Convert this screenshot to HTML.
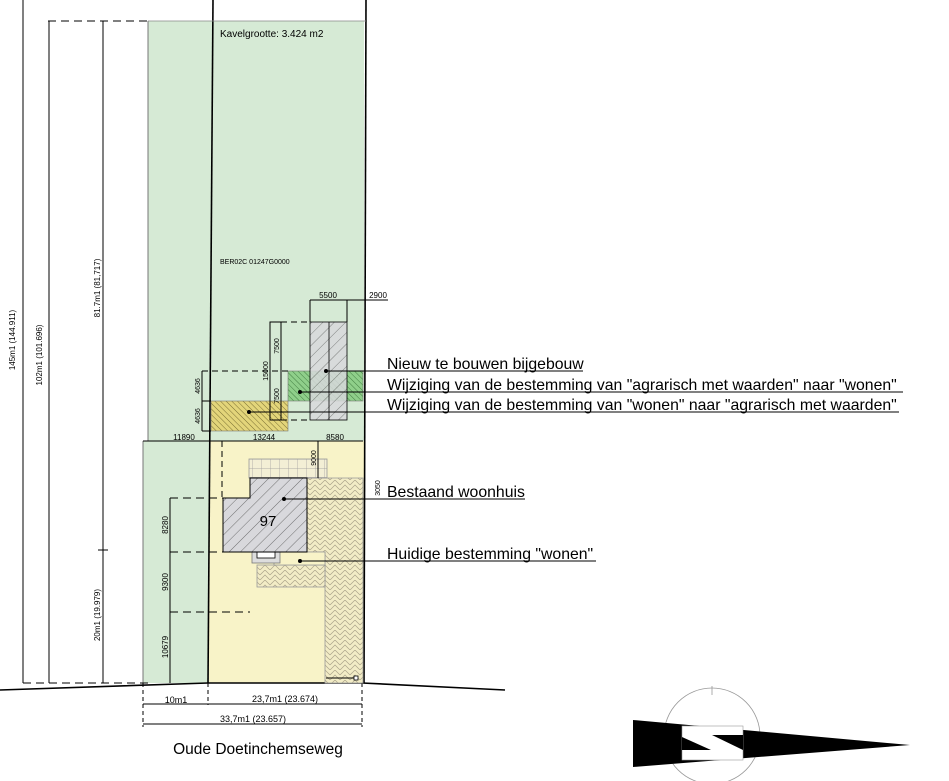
<!DOCTYPE html>
<html><head><meta charset="utf-8"><style>
html,body{margin:0;padding:0;background:#fff}
svg{display:block}
text{font-family:"Liberation Sans",Arial,sans-serif;fill:#000}
</style></head><body>
<svg width="949" height="781" viewBox="0 0 949 781" xmlns="http://www.w3.org/2000/svg">
<defs>
<pattern id="hg" width="8" height="8" patternUnits="userSpaceOnUse" patternTransform="rotate(45)">
<rect width="8" height="8" fill="#d8d8dc"/><line x1="0" y1="0" x2="0" y2="8" stroke="#555" stroke-width="0.8"/></pattern>
<pattern id="hgreen" width="4" height="4" patternUnits="userSpaceOnUse" patternTransform="rotate(-45)">
<rect width="4" height="4" fill="#8fcf8a"/><line x1="0" y1="0" x2="0" y2="4" stroke="#2f6b2f" stroke-width="0.8"/></pattern>
<pattern id="hyel" width="4" height="4" patternUnits="userSpaceOnUse" patternTransform="rotate(-45)">
<rect width="4" height="4" fill="#e3d57a"/><line x1="0" y1="0" x2="0" y2="4" stroke="#5e5520" stroke-width="0.8"/></pattern>
<pattern id="herr" width="10" height="10" patternUnits="userSpaceOnUse">
<rect width="10" height="10" fill="#f2ecc6"/><path d="M0 5 L5 0 L10 5 M0 10 L5 5 L10 10" stroke="#aaa38a" stroke-width="0.7" fill="none"/></pattern>
<pattern id="brick" width="9" height="9" patternUnits="userSpaceOnUse">
<rect width="9" height="9" fill="#f3efd5"/><path d="M0 0H9 M0 0V9" stroke="#999" stroke-width="0.7"/></pattern>
</defs>
<rect x="148" y="21" width="216" height="420" fill="#d6ead5"/>
<rect x="143" y="441" width="66" height="242" fill="#d6ead5"/>
<rect x="209" y="441" width="155" height="242" fill="#f8f3c8"/>
<line x1="148" y1="21" x2="148" y2="441" stroke="#777" stroke-width="1"/>
<line x1="143" y1="441" x2="143" y2="683" stroke="#777" stroke-width="1"/>
<line x1="213" y1="0" x2="208" y2="683" stroke="#000" stroke-width="1.6"/>
<line x1="366" y1="0" x2="364" y2="683" stroke="#000" stroke-width="1.6"/>
<line x1="148" y1="21" x2="366" y2="21" stroke="#888" stroke-width="0.8"/>
<text x="220" y="37" font-size="10">Kavelgrootte: 3.424 m2</text>
<text x="220" y="264" font-size="7">BER02C  01247G0000</text>
<line x1="23" y1="0" x2="23" y2="683" stroke="#000"/>
<line x1="49" y1="21" x2="49" y2="683" stroke="#000"/>
<line x1="103" y1="21" x2="103" y2="683" stroke="#000"/>
<line x1="48" y1="21" x2="150" y2="21" stroke="#000" stroke-dasharray="8,5"/>
<line x1="23" y1="683" x2="148" y2="683" stroke="#000" stroke-dasharray="8,5"/>
<text transform="translate(15,340) rotate(-90)" font-size="8" text-anchor="middle">145m1 (144.911)</text>
<text transform="translate(42,355) rotate(-90)" font-size="8" text-anchor="middle">102m1 (101.696)</text>
<text transform="translate(100,288) rotate(-90)" font-size="8" text-anchor="middle">81.7m1 (81,717)</text>
<text transform="translate(100,615) rotate(-90)" font-size="8" text-anchor="middle">20m1 (19.979)</text>
<line x1="98" y1="550" x2="108" y2="550" stroke="#000"/>
<polyline points="0,690 208,683 362,683 505,690" fill="none" stroke="#000" stroke-width="1.6"/>
<line x1="143" y1="683" x2="143" y2="727" stroke="#000" stroke-dasharray="4,3"/>
<line x1="208" y1="683" x2="208" y2="705" stroke="#000" stroke-dasharray="4,3"/>
<line x1="362" y1="683" x2="362" y2="727" stroke="#000" stroke-dasharray="4,3"/>
<line x1="143" y1="704" x2="362" y2="704" stroke="#000"/>
<line x1="143" y1="724" x2="362" y2="724" stroke="#000"/>
<text x="176" y="703" font-size="9" text-anchor="middle">10m1</text>
<text x="285" y="702" font-size="9" text-anchor="middle">23,7m1 (23.674)</text>
<text x="253" y="722" font-size="9" text-anchor="middle">33,7m1 (23.657)</text>
<text x="258" y="754" font-size="15.5" text-anchor="middle">Oude Doetinchemseweg</text>
<path d="M307 478 H363 V683 H325 V552 H307 Z" fill="url(#herr)" stroke="#999" stroke-width="0.8"/>
<rect x="257" y="565" width="68" height="22" fill="url(#herr)" stroke="#999" stroke-width="0.8"/>
<rect x="274" y="552" width="51" height="13" fill="#f8f3c8" stroke="#999" stroke-width="0.8"/>
<rect x="252" y="552" width="28" height="11" fill="#ddd" stroke="#777" stroke-width="0.8"/>
<rect x="257" y="552" width="18" height="6" fill="#fff" stroke="#000" stroke-width="0.8"/>
<rect x="249" y="459" width="78" height="19" fill="url(#brick)" stroke="#999" stroke-width="0.8"/>
<path d="M250 478 H307 V552 H223 V498 H250 Z" fill="url(#hg)" stroke="#000" stroke-width="1"/>
<text x="268" y="526" font-size="15" text-anchor="middle">97</text>
<line x1="326" y1="678" x2="357" y2="678" stroke="#000"/>
<rect x="354" y="676" width="4" height="4" fill="#fff" stroke="#000" stroke-width="0.8"/>
<line x1="170" y1="498" x2="170" y2="683" stroke="#000"/>
<line x1="170" y1="498" x2="250" y2="498" stroke="#000" stroke-dasharray="8,5"/>
<line x1="170" y1="552" x2="223" y2="552" stroke="#000" stroke-dasharray="8,5"/>
<line x1="170" y1="612" x2="250" y2="612" stroke="#000" stroke-dasharray="8,5"/>
<text transform="translate(168,525) rotate(-90)" font-size="8" text-anchor="middle">8280</text>
<text transform="translate(168,582) rotate(-90)" font-size="8" text-anchor="middle">9300</text>
<text transform="translate(168,647) rotate(-90)" font-size="8" text-anchor="middle">10679</text>
<line x1="222" y1="441" x2="222" y2="498" stroke="#000" stroke-dasharray="6,4"/>
<line x1="318" y1="441" x2="318" y2="478" stroke="#000"/>
<text transform="translate(316,458) rotate(-90)" font-size="7" text-anchor="middle">9000</text>
<text transform="translate(380,488) rotate(-90)" font-size="7" text-anchor="middle">3050</text>
<rect x="211" y="401" width="77" height="30" fill="url(#hyel)" stroke="#777" stroke-width="0.6"/>
<rect x="288" y="371" width="75" height="30" fill="url(#hgreen)" stroke="#777" stroke-width="0.6"/>
<rect x="310" y="322" width="37" height="98" fill="url(#hg)" fill-opacity="0.85" stroke="#000" stroke-width="0.8"/>
<line x1="329" y1="322" x2="329" y2="420" stroke="#000" stroke-width="0.8"/>
<rect x="270" y="322" width="11" height="98" fill="none" stroke="#000"/>
<line x1="281" y1="322" x2="310" y2="322" stroke="#000" stroke-dasharray="6,4"/>
<line x1="202" y1="371" x2="288" y2="371" stroke="#000" stroke-dasharray="6,4"/>
<line x1="281" y1="420" x2="310" y2="420" stroke="#000" stroke-dasharray="6,4"/>
<line x1="202" y1="371" x2="202" y2="431" stroke="#000"/>
<line x1="202" y1="401" x2="211" y2="401" stroke="#000"/>
<line x1="202" y1="431" x2="211" y2="431" stroke="#000"/>
<text transform="translate(200,386) rotate(-90)" font-size="7" text-anchor="middle">4636</text>
<text transform="translate(200,416) rotate(-90)" font-size="7" text-anchor="middle">4636</text>
<text transform="translate(268,371) rotate(-90)" font-size="7" text-anchor="middle">15000</text>
<text transform="translate(279,346) rotate(-90)" font-size="7" text-anchor="middle">7500</text>
<text transform="translate(279,396) rotate(-90)" font-size="7" text-anchor="middle">7500</text>
<line x1="310" y1="300" x2="388" y2="300" stroke="#000"/>
<line x1="310" y1="300" x2="310" y2="322" stroke="#000"/>
<line x1="347" y1="300" x2="347" y2="322" stroke="#000"/>
<text x="328" y="298" font-size="8" text-anchor="middle">5500</text>
<text x="378" y="298" font-size="8" text-anchor="middle">2900</text>
<line x1="143" y1="441" x2="363" y2="441" stroke="#000"/>
<text x="184" y="440" font-size="8" text-anchor="middle">11890</text>
<text x="264" y="440" font-size="8" text-anchor="middle">13244</text>
<text x="335" y="440" font-size="8" text-anchor="middle">8580</text>
<g stroke="#000" stroke-width="1">
<line x1="326" y1="371" x2="583" y2="371"/>
<line x1="300" y1="392" x2="903" y2="392"/>
<line x1="249" y1="412" x2="899" y2="412"/>
<line x1="284" y1="499" x2="525" y2="499"/>
<line x1="300" y1="561" x2="596" y2="561"/>
</g>
<g fill="#000"><circle cx="326" cy="371" r="2"/><circle cx="300" cy="392" r="2"/><circle cx="249" cy="412" r="2"/><circle cx="284" cy="499" r="2"/><circle cx="300" cy="561" r="2"/></g>
<g font-size="15.8">
<text x="387" y="369">Nieuw te bouwen bijgebouw</text>
<text x="387" y="390">Wijziging van de bestemming van "agrarisch met waarden" naar "wonen"</text>
<text x="387" y="410">Wijziging van de bestemming van "wonen" naar "agrarisch met waarden"</text>
<text x="387" y="497">Bestaand woonhuis</text>
<text x="387" y="559">Huidige bestemming "wonen"</text>
</g>
<circle cx="712" cy="736" r="48" fill="none" stroke="#999" stroke-width="0.8"/>
<line x1="712" y1="686" x2="712" y2="695" stroke="#999" stroke-width="0.8"/>
<polygon points="633,720 910,745 633,767" fill="#000"/>
<rect x="682" y="726" width="61" height="34" fill="#fff" stroke="#999" stroke-width="0.6"/>
<polygon points="682,737 711,750 682,750" fill="#000"/>
<polygon points="712,735 743,735 743,750" fill="#000"/>
</svg>
</body></html>
